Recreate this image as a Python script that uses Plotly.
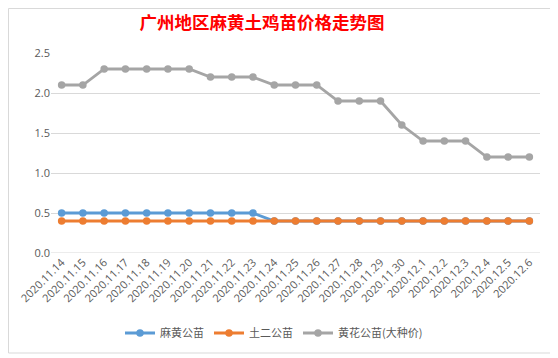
import plotly.graph_objects as go

dates = ["2020.11.14", "2020.11.15", "2020.11.16", "2020.11.17", "2020.11.18", "2020.11.19",
         "2020.11.20", "2020.11.21", "2020.11.22", "2020.11.23", "2020.11.24", "2020.11.25",
         "2020.11.26", "2020.11.27", "2020.11.28", "2020.11.29", "2020.11.30", "2020.12.1",
         "2020.12.2", "2020.12.3", "2020.12.4", "2020.12.5", "2020.12.6"]
mahuang = [0.5, 0.5, 0.5, 0.5, 0.5, 0.5, 0.5, 0.5, 0.5, 0.5, 0.4, 0.4,
           0.4, 0.4, 0.4, 0.4, 0.4, 0.4, 0.4, 0.4, 0.4, 0.4, 0.4]
tuer = [0.4] * 23
huanghua = [2.1, 2.1, 2.3, 2.3, 2.3, 2.3, 2.3, 2.2, 2.2, 2.2, 2.1, 2.1,
            2.1, 1.9, 1.9, 1.9, 1.6, 1.4, 1.4, 1.4, 1.2, 1.2, 1.2]
names = ["麻黄公苗", "土二公苗", "黄花公苗(大种价)"]
colors = ["#5B9BD5", "#ED7D31", "#A5A5A5"]

fig = go.Figure()
for name, vals, c in zip(names, [mahuang, tuer, huanghua], colors):
    fig.add_trace(go.Scatter(x=dates, y=vals, name=name, mode="lines+markers",
                             line=dict(color=c, width=2.8),
                             marker=dict(color=c, size=7.5)))

# page body has an 8px margin, so the figure is offset by 8px
W, H = 550, 350
L, T, PW, PH = 43, 45, 489, 200
font_cjk = "Microsoft YaHei, Noto Sans CJK SC, sans-serif"
fig.update_layout(
    width=W, height=H,
    margin=dict(l=L, r=W - L - PW, t=T, b=H - T - PH, autoexpand=False),
    paper_bgcolor="white", plot_bgcolor="white",
    title=dict(text="<b>广州地区麻黄土鸡苗价格走势图</b>", x=(262 - 8) / W, xanchor="center",
               y=1 - 15 / H, yanchor="middle",
               font=dict(family="Noto Sans CJK SC", size=17.5, color="#FF0000")),
    font=dict(family=font_cjk, size=11, color="#595959"),
    showlegend=True,
    legend=dict(orientation="h", x=(266 - L) / PW, xanchor="center",
                y=-0.4, yanchor="middle", font=dict(size=11, color="#595959"),
                itemwidth=30, tracegroupgap=0),
    xaxis=dict(type="category", range=[-0.5, 22.5], showgrid=False, showline=False,
               automargin=False, nticks=30,
               ticks="", tickangle=-45, tickfont=dict(family="Open Sans, sans-serif", size=11, color="#595959")),
    yaxis=dict(range=[0, 2.5], dtick=0.5, tickformat=".1f", showgrid=True, automargin=False,
               gridcolor="#D9D9D9", gridwidth=1, zeroline=False, showline=False,
               ticks="", tickfont=dict(family="Open Sans, sans-serif", size=11, color="#595959")),
    shapes=[dict(type="rect", xref="paper", yref="paper",
                 x0=(0.5 - L) / PW, x1=(545 - L) / PW, y0=(T + PH - 345) / PH, y1=(T + PH - 0.5) / PH,
                 line=dict(color="#D9D9D9", width=1), layer="below")],
)
fig.add_shape(type="line", xref="paper", yref="y", x0=0, x1=1, y0=0, y1=0,
              line=dict(color="#D9D9D9", width=1), layer="below")

fig.write_html("out.html")
